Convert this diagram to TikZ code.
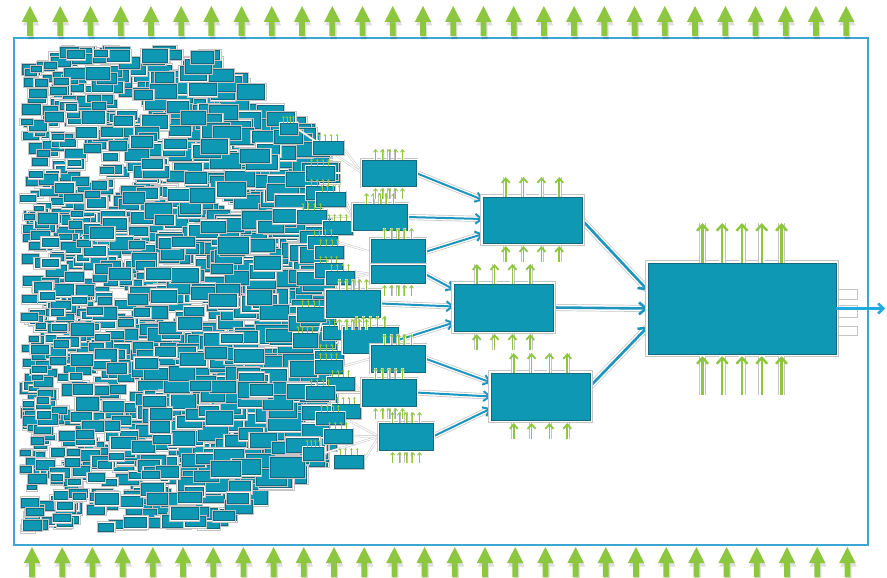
\documentclass[tikz,border=0pt]{standalone}
\usetikzlibrary{arrows.meta,calc}
\definecolor{tealf}{RGB}{14,152,180}
\definecolor{teald}{RGB}{22,105,125}
\definecolor{grn}{RGB}{141,198,63}
\definecolor{frameb}{RGB}{60,168,210}
\definecolor{conb}{RGB}{28,150,190}
\definecolor{outb}{RGB}{30,170,225}
\definecolor{halog}{RGB}{196,196,196}
\pgfdeclarelayer{cloud}
\pgfdeclarelayer{links}
\pgfsetlayers{cloud,links,main}
\begin{document}
\begin{tikzpicture}[x=1pt,y=-1pt,
  bigbox/.style={fill=tealf, draw=teald, line width=0.9pt, inner sep=0pt, outer sep=0pt,
    preaction={draw=halog, line width=6pt}, preaction={draw=white, line width=4.6pt}},
  l3box/.style={fill=tealf, draw=teald, line width=0.6pt, inner sep=0pt, outer sep=0pt,
    minimum width=54pt, minimum height=26pt,
    preaction={draw=halog, line width=4pt}, preaction={draw=white, line width=3pt}},
  sbox/.style={fill=tealf, draw=teald, line width=0.5pt, inner sep=0pt, outer sep=0pt,
    preaction={draw=halog, line width=3pt}, preaction={draw=white, line width=2.2pt}},
  gA/.style={draw=grn, line width=2.4pt, -{Straight Barb[length=6pt,width=11pt]},
    preaction={draw=halog, line width=7pt, -}, preaction={draw=white, line width=5.6pt, -}},
  gB/.style={draw=grn, line width=1.8pt, -{Straight Barb[length=4.5pt,width=8pt]},
    preaction={draw=halog, line width=5.2pt, -}, preaction={draw=white, line width=4pt, -}},
  gC/.style={draw=grn, line width=0.9pt, -{Straight Barb[length=2.5pt,width=4pt]},
    preaction={draw=halog, line width=3.2pt, -}, preaction={draw=white, line width=2.4pt, -}},
  tinyg/.style={draw=grn, line width=0.6pt, -{Stealth[length=2pt,width=2.6pt]}},
  conn/.style={draw=conb, line width=2pt, -{Straight Barb[length=6pt,width=10pt]},
    preaction={draw=halog, line width=6pt, -}, preaction={draw=white, line width=4.6pt, -}},
  bconn/.style={draw=conb, line width=2.6pt, -{Straight Barb[length=7pt,width=12pt]},
    preaction={draw=halog, line width=7pt, -}, preaction={draw=white, line width=5.6pt, -}},
  outarr/.style={draw=outb, line width=2.6pt, -{Straight Barb[length=5pt,width=10pt]}},
  glink/.style={draw=halog, line width=0.5pt, double=white, double distance=1.2pt},
  stub/.style={fill=white, draw=halog, line width=0.8pt},
  edgega/.pic={
    \fill[black, opacity=0.13] (1.2,3) -- (9.5,19.5) -- (4.2,19.5) -- (4.2,33.5) -- (-1.8,33.5) -- (-1.8,19.5) -- (-7.1,19.5) -- cycle;
    \fill[grn] (0,0) -- (8.2,16) -- (2.9,16) -- (2.9,30) -- (-2.9,30) -- (-2.9,16) -- (-8.2,16) -- cycle;
  }
]
\useasboundingbox (0,0) rectangle (887,578);

% ---------- frame and edge arrows ----------
\begin{pgfonlayer}{cloud}
\draw[frameb, line width=1.2pt] (14,38) rectangle (868,545);
\foreach \i in {0,...,27} \pic at ({30+30.23*\i},6) {edgega};
\foreach \i in {0,...,27} \pic at ({32+30.2*\i},547) {edgega};

% ---------- dense cloud of small boxes ----------
\pgfmathsetseed{4242}
\foreach \i in {1,...,1400}{
  \pgfmathsetmacro\xx{20+284*pow(rnd,1.1)}
  \pgfmathsetmacro\ww{8+0.06*(\xx-22)+11*rnd}
  \pgfmathsetmacro\hh{\ww*(0.42+0.15*rnd)}
  \pgfmathsetmacro\tp{46+max(0,60-\xx)*0.45+max(0,\xx-195)*0.85}
  \pgfmathsetmacro\bt{532-max(0,\xx-195)*0.6}
  \pgfmathsetmacro\yy{\tp+(\bt-\tp-\hh)*rnd}
  \filldraw[fill=white, draw=halog, line width=0.35pt] (\xx-1.3,\yy-1.3) rectangle (\xx+\ww+1.3,\yy+\hh+1.3);
  \filldraw[fill=tealf, draw=teald, line width=0.45pt] (\xx,\yy) rectangle (\xx+\ww,\yy+\hh);
}
\end{pgfonlayer}

% ---------- level 4 boxes ----------
\def\lfour{313/141/343/154/a, 306/166/334/180/a, 306/186/334/199/b, 316/192/345/206/b,
  297/210/326/223/b, 323/221/352/234/b, 308/236/337/248/c1, 315/246/343/258/c1,
  315/263/342/277/c2, 326/271/354/284/c2, 297/307/325/321/d, 323/326/352/339/e,
  293/333/317/347/d, 315/351/343/364/e, 315/360/342/373/f, 327/377/354/390/g,
  306/386/334/399/g, 332/404/360/418/g, 316/412/344/424/h, 324/429/352/443/h,
  303/447/323/460/h, 334/455/363/468/h, 280/123/297/134/a}
\foreach \xa/\ya/\xb/\yb/\tg [count=\k] in \lfour {
  \node[sbox, minimum width={\xb-\xa}, minimum height={\yb-\ya}] (s\k) at ({(\xa+\xb)/2},{(\ya+\yb)/2}) {};
  \foreach \t in {0.2,0.4,0.6,0.8}
    \draw[tinyg] ({\xa+\t*(\xb-\xa)},\ya) -- ++(0,-7);
}

% ---------- level 3 boxes ----------
\node[l3box] (a) at (389,173) {};
\node[l3box] (b) at (380,217) {};
\node[l3box] (c1) at (398,252) {};
\node[l3box, minimum height=18pt] (c2) at (398,274) {};
\node[l3box, minimum height=27pt] (d) at (353,303.5) {};
\node[l3box, minimum width=55pt] (e) at (370.5,340) {};
\node[l3box, minimum height=27pt] (f) at (398,358.5) {};
\node[l3box, minimum height=27pt] (g) at (389,392.5) {};
\node[l3box, minimum height=27pt] (h) at (406,436.5) {};

\foreach \n in {a,b,c1,d,e,f,g,h}
  \foreach \t in {0.25,0.375,0.5,0.625,0.75}
    \draw[gC] ($(\n.north west)!\t!(\n.north east)$) -- ++(0,-11);
\foreach \n in {a,c2,d,g,h}
  \foreach \t in {0.25,0.375,0.5,0.625,0.75}
    \draw[gC] ($(\n.south west)!\t!(\n.south east)+(0,13)$) -- ++(0,-11);

% ---------- level 2 boxes ----------
\node[bigbox, minimum width=99pt, minimum height=46pt] (T) at (532.5,220) {};
\node[bigbox, minimum width=99pt, minimum height=47pt] (M) at (503.5,307.5) {};
\node[bigbox, minimum width=99pt, minimum height=47pt] (B) at (540.5,396.5) {};
\foreach \n in {T,M,B}
  \foreach \t in {0.23,0.41,0.59,0.77}{
    \draw[gB] ($(\n.north west)!\t!(\n.north east)$) -- ++(0,-20);
    \draw[gB] ($(\n.south west)!\t!(\n.south east)+(0,19)$) -- ++(0,-16);
  }

% ---------- final box ----------
\draw[stub] (830,289) rectangle (857,299);
\draw[stub] (830,305) rectangle (857,317);
\draw[stub] (830,326) rectangle (857,335);
\node[bigbox, minimum width=188pt, minimum height=91pt] (F) at (742,308.5) {};
\foreach \t in {0.29,0.395,0.5,0.605,0.71}{
  \draw[gA] ($(F.north west)!\t!(F.north east)$) -- ++(0,-40);
  \draw[gA] ($(F.south west)!\t!(F.south east)+(0,41)$) -- ++(0,-39);
}
\coordinate (out) at (885,308.5);
\draw[outarr] (F.east) -- (out);

% ---------- links ----------
\begin{pgfonlayer}{links}
\foreach \xa/\ya/\xb/\yb/\tg [count=\k] in \lfour
  \draw[glink] (s\k.east) -- (\tg.west);
\draw[conn] (a.east) -- ([yshift=20pt]T.west);
\draw[conn] (b.east) -- ([yshift=1pt]T.west);
\draw[conn] (c1.east) -- ([yshift=-14pt]T.west);
\draw[conn] (c2.east) -- ([yshift=18pt]M.west);
\draw[conn] (d.east) -- ([yshift=1pt]M.west);
\draw[conn] (e.east) -- ([yshift=-15pt]M.west);
\draw[conn] (f.east) -- ([yshift=14pt]B.west);
\draw[conn] (g.east) -- (B.west);
\draw[conn] (h.east) -- ([yshift=-12pt]B.west);
\draw[bconn] (T.east) -- ([yshift=18pt]F.west);
\draw[bconn] (M.east) -- (F.west);
\draw[bconn] ([yshift=10pt]B.east) -- ([yshift=-18pt]F.west);
\end{pgfonlayer}
\end{tikzpicture}
\end{document}
